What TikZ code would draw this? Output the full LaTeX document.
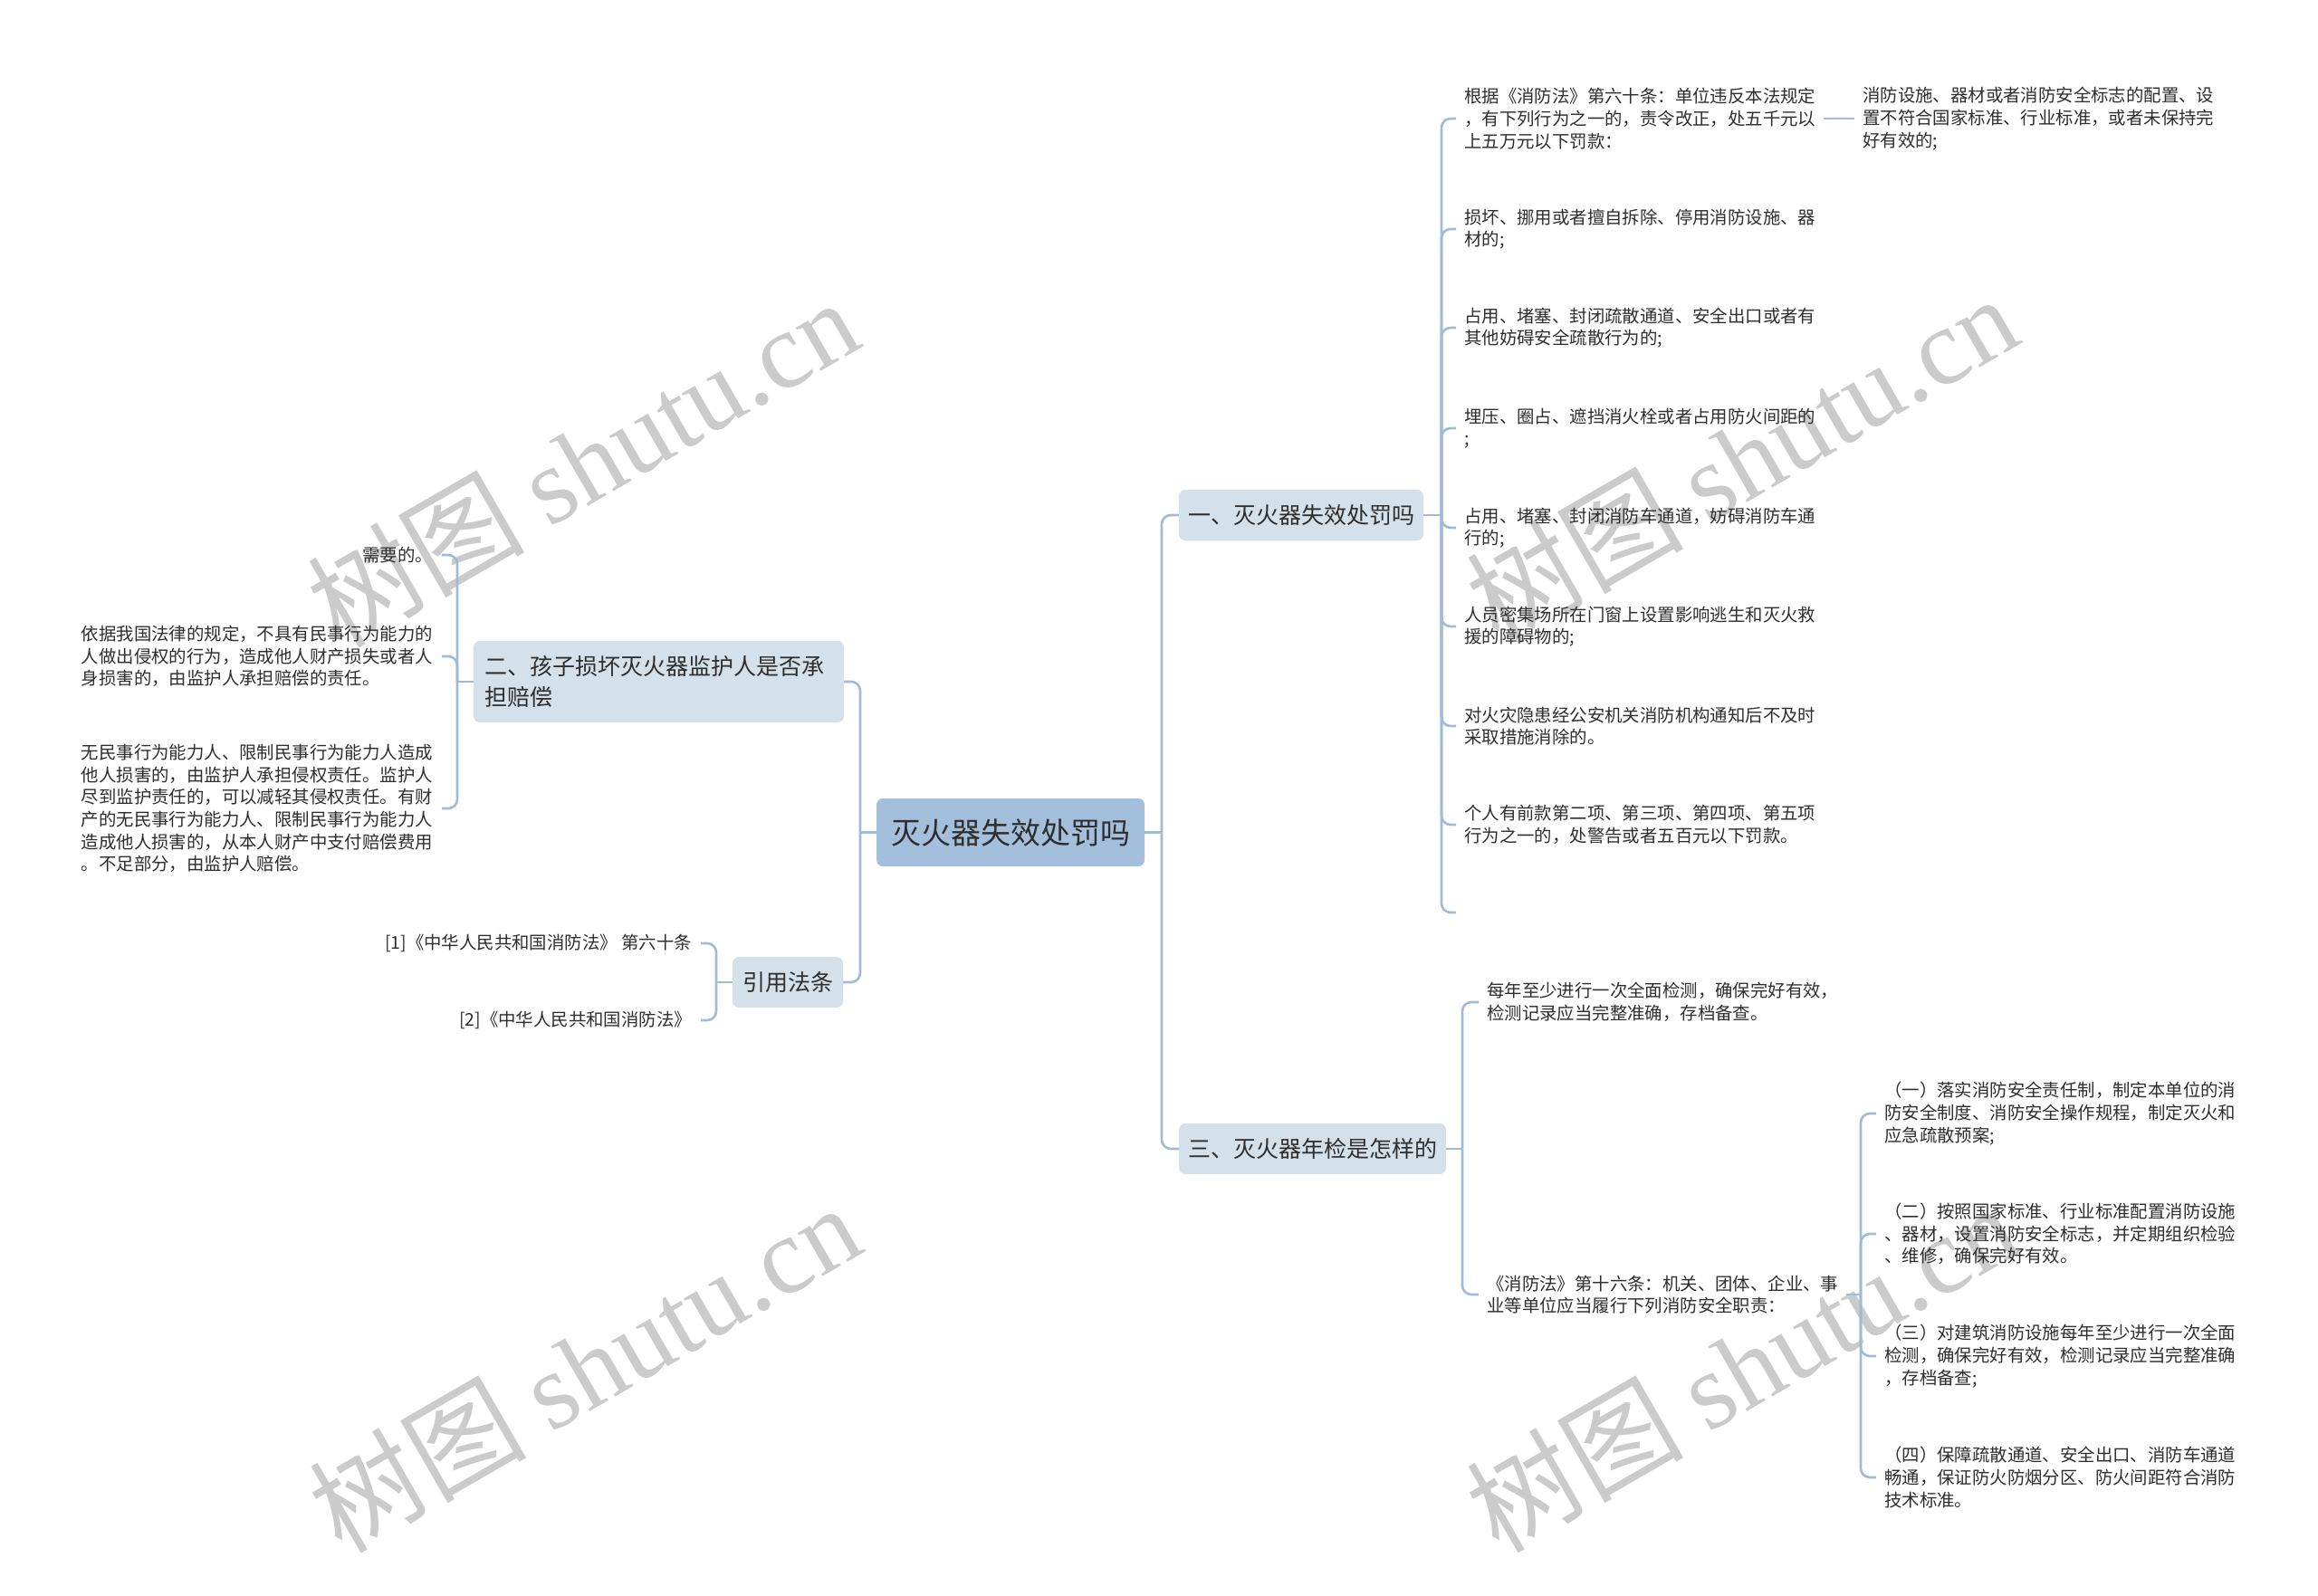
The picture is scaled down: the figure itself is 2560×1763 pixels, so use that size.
\documentclass[tikz,border=0pt]{standalone}
\usepackage{fontspec}
\setmainfont{Noto Sans CJK SC}
\newfontfamily\cjkwm{Noto Sans CJK SC}
\newfontfamily\wmserif{Liberation Serif}
\definecolor{lc}{HTML}{A0BBD5}
\definecolor{rootc}{HTML}{A3BFDB}
\definecolor{lvlc}{HTML}{D4E0EA}
\definecolor{tc}{HTML}{2E2E2E}
\definecolor{wmc}{HTML}{CBCBCB}
\tikzset{
  conn/.style={draw=lc, line width=2.6pt, rounded corners=10pt},
  rootbox/.style={fill=rootc, rounded corners=7pt, text=tc, font=\fontsize{33}{40}\selectfont, minimum width=296pt, minimum height=75pt, inner sep=0pt},
  lvlbox/.style={fill=lvlc, rounded corners=7pt, text=tc, font=\fontsize{25}{34}\selectfont, minimum height=56pt, inner sep=0pt},
  leaf/.style={text=tc, font=\fontsize{19.4}{24.7}\selectfont, align=left, inner xsep=9pt, inner ysep=0pt},
  wmark/.style={text=wmc, rotate=30, inner sep=0pt, font=\fontsize{120}{130}\selectfont}
}
\begin{document}
\begin{tikzpicture}[x=1pt,y=-1pt]
\fill[white] (0,0) rectangle (2560,1763);
\path[use as bounding box] (0,0) rectangle (2560,1763);

% watermarks
\node[wmark] (w1) at (643,510) {{\cjkwm 树图} {\wmserif shutu.cn}};
\node[wmark] (w2) at (1923,506) {{\cjkwm 树图} {\wmserif shutu.cn}};
\node[wmark] (w3) at (645,1510) {{\cjkwm 树图} {\wmserif shutu.cn}};
\node[wmark] (w4) at (1923,1510) {{\cjkwm 树图} {\wmserif shutu.cn}};

% root and level 1
\node[rootbox] (root) at (1116,919.5) {灭火器失效处罚吗};
\node[lvlbox, minimum width=270pt] (n1) at (1437,569) {一、灭火器失效处罚吗};
\node[lvlbox, minimum width=295pt] (n3) at (1449.5,1269) {三、灭火器年检是怎样的};
\node[lvlbox, minimum height=90pt, text width=385pt, inner xsep=12pt, align=left] (n2) at (727.5,753) {二、孩子损坏灭火器监护人是否承\\担赔偿};
\node[lvlbox, minimum width=122pt] (n4) at (870,1085) {引用法条};

% junctions
\coordinate (jl) at (950,919.5);
\coordinate (jr) at (1283,919.5);
\coordinate (j1) at (1592,569);
\coordinate (j3) at (1615,1269);
\coordinate (j2) at (505,753);
\coordinate (j4) at (791,1085);

% children of n1
\node[leaf, anchor=west] (a1) at (1608,131) {根据《消防法》第六十条：单位违反本法规定\\，有下列行为之一的，责令改正，处五千元以\\上五万元以下罚款：};
\node[leaf, anchor=west] (a2) at (1608,253) {损坏、挪用或者擅自拆除、停用消防设施、器\\材的;};
\node[leaf, anchor=west] (a3) at (1608,362) {占用、堵塞、封闭疏散通道、安全出口或者有\\其他妨碍安全疏散行为的;};
\node[leaf, anchor=west] (a4) at (1608,473) {埋压、圈占、遮挡消火栓或者占用防火间距的\\;};
\node[leaf, anchor=west] (a5) at (1608,583) {占用、堵塞、封闭消防车通道，妨碍消防车通\\行的;};
\node[leaf, anchor=west] (a6) at (1608,692) {人员密集场所在门窗上设置影响逃生和灭火救\\援的障碍物的;};
\node[leaf, anchor=west] (a7) at (1608,802) {对火灾隐患经公安机关消防机构通知后不及时\\采取措施消除的。};
\node[leaf, anchor=west] (a8) at (1608,911) {个人有前款第二项、第三项、第四项、第五项\\行为之一的，处警告或者五百元以下罚款。};
\coordinate (a9) at (1608,1008);
\node[leaf, anchor=west] (a1b) at (2048,131) {消防设施、器材或者消防安全标志的配置、设\\置不符合国家标准、行业标准，或者未保持完\\好有效的;};

% children of n3
\node[leaf, anchor=west] (b1) at (1633,1107) {每年至少进行一次全面检测，确保完好有效，\\检测记录应当完整准确，存档备查。};
\node[leaf, anchor=west] (b2) at (1633,1430) {《消防法》第十六条：机关、团体、企业、事\\业等单位应当履行下列消防安全职责：};
\coordinate (jb) at (2055,1430);
\node[leaf, anchor=west] (c1) at (2072,1230) {（一）落实消防安全责任制，制定本单位的消\\防安全制度、消防安全操作规程，制定灭火和\\应急疏散预案;};
\node[leaf, anchor=west] (c2) at (2072,1363) {（二）按照国家标准、行业标准配置消防设施\\、器材，设置消防安全标志，并定期组织检验\\、维修，确保完好有效。};
\node[leaf, anchor=west] (c3) at (2072,1498) {（三）对建筑消防设施每年至少进行一次全面\\检测，确保完好有效，检测记录应当完整准确\\，存档备查;};
\node[leaf, anchor=west] (c4) at (2072,1632) {（四）保障疏散通道、安全出口、消防车通道\\畅通，保证防火防烟分区、防火间距符合消防\\技术标准。};

% children of n2
\node[leaf, anchor=east, inner xsep=10pt] (d1) at (488,613) {需要的。};
\node[leaf, anchor=east, inner xsep=10pt] (d2) at (488,725) {依据我国法律的规定，不具有民事行为能力的\\人做出侵权的行为，造成他人财产损失或者人\\身损害的，由监护人承担赔偿的责任。};
\node[leaf, anchor=east, inner xsep=10pt] (d3) at (488,893) {无民事行为能力人、限制民事行为能力人造成\\他人损害的，由监护人承担侵权责任。监护人\\尽到监护责任的，可以减轻其侵权责任。有财\\产的无民事行为能力人、限制民事行为能力人\\造成他人损害的，从本人财产中支付赔偿费用\\。不足部分，由监护人赔偿。};

% children of n4
\node[leaf, anchor=east, inner xsep=10pt] (e1) at (774,1042) {[1]《中华人民共和国消防法》 第六十条};
\node[leaf, anchor=east, inner xsep=10pt] (e2) at (774,1127) {[2]《中华人民共和国消防法》};

% connectors
\draw[conn] (root.west) -- (jl);
\draw[conn] (jl) |- (n2.east);
\draw[conn] (jl) |- (n4.east);
\draw[conn] (root.east) -- (jr);
\draw[conn] (jr) |- (n1.west);
\draw[conn] (jr) |- (n3.west);

\draw[conn] (n1.east) -- (j1);
\foreach \t in {a1,a2,a3,a4,a5,a6,a7,a8} \draw[conn] (j1) |- (\t.west);
\draw[conn] (j1) |- (a9);
\draw[conn] (a1.east) -- (a1b.west);

\draw[conn] (n3.east) -- (j3);
\draw[conn] (j3) |- (b1.west);
\draw[conn] (j3) |- (b2.west);
\draw[conn] (b2.east) -- (jb);
\foreach \t in {c1,c2,c3,c4} \draw[conn] (jb) |- (\t.west);

\draw[conn] (n2.west) -- (j2);
\foreach \t in {d1,d2,d3} \draw[conn] (j2) |- (\t.east);

\draw[conn] (n4.west) -- (j4);
\foreach \t in {e1,e2} \draw[conn] (j4) |- (\t.east);
\end{tikzpicture}
\end{document}
